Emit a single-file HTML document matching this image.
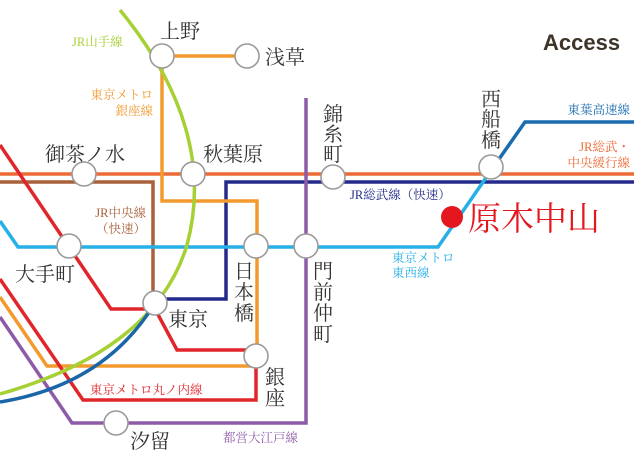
<!DOCTYPE html>
<html><head><meta charset="utf-8"><style>
html,body{margin:0;padding:0;background:#fff;}
svg{display:block;font-family:"Liberation Serif","Noto Serif CJK SC",serif;}
.s{fill:#333;font-size:20px;}
.l{font-size:12.5px;}
</style></head><body>
<svg width="640" height="464" viewBox="0 0 640 464" xmlns="http://www.w3.org/2000/svg">
<g fill="none" stroke-width="3.5" stroke-linejoin="miter">
<path d="M0,174 H634" stroke="#ec6a36"/>
<path d="M0,182 H153 V300" stroke="#a8613a"/>
<path d="M155,299 H226 V182 H634" stroke="#232a8c"/>
<path d="M0,221 L18,247 H438 L490,172" stroke="#27b0e6"/>
<path d="M490,172 L525,122 H634" stroke="#1a6cb0"/>
<path d="M162,56 H247 M162,56 V201 H257 V366 H47 L0,297" stroke="#f39a2e"/>
<path d="M0,145 L111,309 H155 L177,350 H256 V400 H83 L0,279" stroke="#e0262b"/>
<path d="M306,98 V423 H72 L0,317" stroke="#8e5ba8"/>
<path d="M120,10 Q218,130 187,245 Q155,350 0,394" stroke="#a6d033"/>
<path d="M155,303 Q105,385 0,402" stroke="#1a66a8"/>
</g>
<g fill="#fff" stroke="#9a9a9a" stroke-width="1.6">
<circle cx="162" cy="56" r="12"/><circle cx="247" cy="56" r="12"/>
<circle cx="84" cy="174" r="12"/><circle cx="193" cy="174" r="12"/>
<circle cx="333" cy="177" r="12"/><circle cx="491" cy="167" r="12"/>
<circle cx="69" cy="246" r="12"/><circle cx="256" cy="246" r="12"/>
<circle cx="306" cy="246" r="12"/><circle cx="155" cy="303" r="12"/>
<circle cx="256" cy="356" r="12"/><circle cx="116" cy="423" r="12"/>
</g>
<circle cx="452" cy="217" r="11" fill="#e3171d"/>
<text x="468" y="230" fill="#e3171d" font-size="33">原木中山</text>
<text x="543" y="50" fill="#3d342a" font-size="22" font-weight="bold" font-family="Liberation Sans,sans-serif">Access</text>
<g class="s">
<text x="160" y="38">上野</text>
<text x="265" y="64">浅草</text>
<text x="45" y="161">御茶ノ水</text>
<text x="203" y="161">秋葉原</text>
<text x="15" y="281">大手町</text>
<text x="168" y="326">東京</text>
<text x="130" y="448">汐留</text>
</g>
<g class="s" text-anchor="middle">
<text x="333" y="121">錦</text><text x="333" y="141">糸</text><text x="333" y="161">町</text>
<text x="491" y="106">西</text><text x="491" y="126">船</text><text x="491" y="147">橋</text>
<text x="244" y="278">日</text><text x="244" y="299">本</text><text x="244" y="320">橋</text>
<text x="323" y="278">門</text><text x="323" y="299">前</text><text x="323" y="320">仲</text><text x="323" y="341">町</text>
<text x="275" y="384">銀</text><text x="275" y="405">座</text>
</g>
<g class="l">
<text x="72" y="46" fill="#a6d033">JR山手線</text>
<text x="153" y="99" fill="#f39a2e" text-anchor="end">東京メトロ</text>
<text x="153" y="115" fill="#f39a2e" text-anchor="end">銀座線</text>
<text x="146" y="217" fill="#a8613a" text-anchor="end">JR中央線</text>
<text x="146" y="233" fill="#a8613a" text-anchor="end">（快速）</text>
<text x="350" y="199" fill="#232a8c">JR総武線（快速）</text>
<text x="392" y="262" fill="#27b0e6">東京メトロ</text>
<text x="392" y="277" fill="#27b0e6">東西線</text>
<text x="630" y="114" fill="#1a6cb0" text-anchor="end">東葉高速線</text>
<text x="630" y="151" fill="#ec6a36" text-anchor="end">JR総武・</text>
<text x="630" y="167" fill="#ec6a36" text-anchor="end">中央緩行線</text>
<text x="90" y="394" fill="#e0262b">東京メトロ丸ノ内線</text>
<text x="223" y="442" fill="#8e5ba8">都営大江戸線</text>
</g>
</svg>
</body></html>
